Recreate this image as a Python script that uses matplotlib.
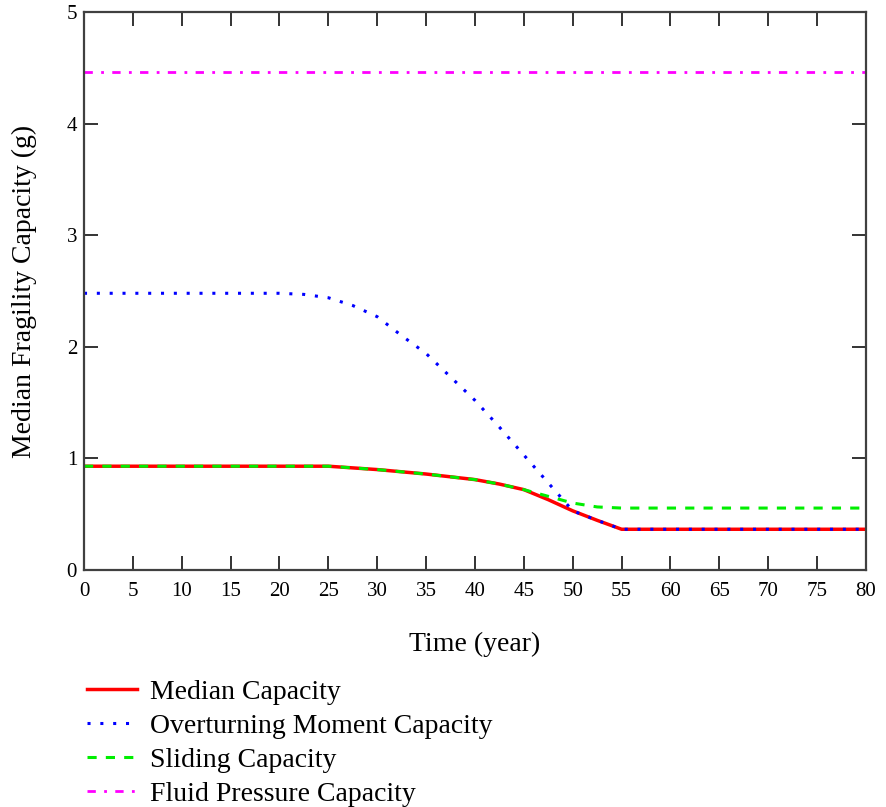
import matplotlib
matplotlib.use("Agg")
import matplotlib.pyplot as plt

years = [0, 5, 10, 15, 20, 22.5, 25, 27.5, 30, 32.5, 35, 37.5, 40, 42.5, 45,
         47.5, 50, 52.5, 55, 60, 65, 70, 75, 80]
median_capacity = [0.93, 0.93, 0.93, 0.93, 0.93, 0.93, 0.93, 0.915, 0.90, 0.88, 0.86,
                   0.835, 0.81, 0.77, 0.72, 0.63, 0.53, 0.445, 0.365, 0.365, 0.365,
                   0.365, 0.365, 0.365]
overturning_capacity = [2.48, 2.48, 2.48, 2.48, 2.48, 2.47, 2.44, 2.37, 2.27, 2.10, 1.94,
                        1.73, 1.52, 1.28, 1.03, 0.78, 0.53, 0.445, 0.365, 0.365, 0.365,
                        0.365, 0.365, 0.365]
sliding_capacity = [0.93, 0.93, 0.93, 0.93, 0.93, 0.93, 0.93, 0.915, 0.90, 0.88, 0.86,
                    0.835, 0.81, 0.77, 0.72, 0.66, 0.60, 0.565, 0.555, 0.555, 0.555,
                    0.555, 0.555, 0.555]
fluid_capacity = [4.46] * len(years)

x_ticks = list(range(0, 81, 5))
y_ticks = [0, 1, 2, 3, 4, 5]

plt.rcParams["font.family"] = ["Liberation Serif", "DejaVu Serif"]

fig = plt.figure(figsize=(8.86, 8.07), dpi=100)
ax = fig.add_axes([0.0948, 0.2937, 0.8826, 0.6913])

ax.plot(years, median_capacity, color="#ff0000", lw=2.5, ls="-", label="Median Capacity")
ax.plot(years, overturning_capacity, color="#0000ff", lw=2.2, ls=(0, (1, 3.2)),
        label="Overturning Moment Capacity")
ax.plot(years, sliding_capacity, color="#00ee00", lw=2.2, ls=(0, (3, 3)),
        label="Sliding Capacity")
ax.plot(years, fluid_capacity, color="#ff00ff", lw=2.0, ls=(0, (3, 3, 1, 3)),
        label="Fluid Pressure Capacity")

ax.set_xlim(0, 80)
ax.set_ylim(0, 5)
ax.set_xticks(x_ticks)
ax.set_yticks(y_ticks)
ax.tick_params(direction="in", length=10, width=1.4, color="#333333",
               top=True, right=True, labelsize=15)
ax.tick_params(axis="x", pad=9)
ax.tick_params(axis="y", pad=5)
for sp in ax.spines.values():
    sp.set_color("#404040")
    sp.set_linewidth(1.6)

ax.set_xlabel("Time (year)", fontsize=20, labelpad=22)
ax.set_ylabel("Median Fragility Capacity (g)", fontsize=20, labelpad=21)

fig.legend(loc="upper left", bbox_to_anchor=(0.086, 0.172), frameon=False,
           fontsize=20, handlelength=1.8, handletextpad=0.45, labelspacing=0.31,
           borderaxespad=0)

fig.savefig("out.png", dpi=100)
